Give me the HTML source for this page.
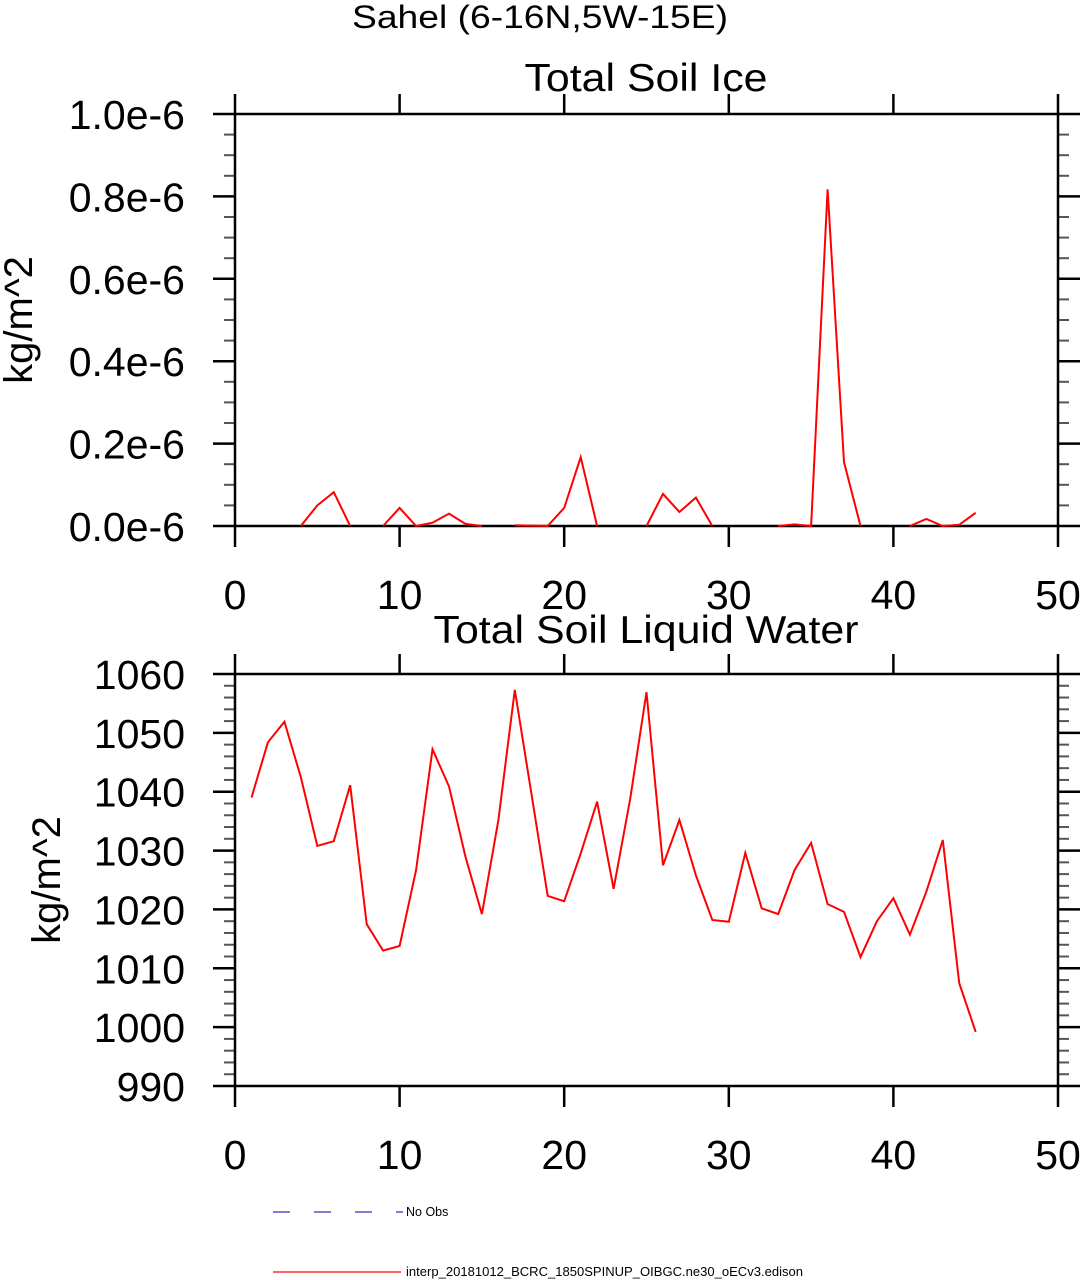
<!DOCTYPE html>
<html><head><meta charset="utf-8"><style>
body{margin:0;background:#fff}
svg{display:block}
text{font-family:"Liberation Sans",Arial,sans-serif;fill:#000}
</style></head><body>
<svg id="chart" width="1080" height="1280" viewBox="0 0 1080 1280" xmlns="http://www.w3.org/2000/svg">
<text x="540" y="28" font-size="32" text-anchor="middle" textLength="376" lengthAdjust="spacingAndGlyphs">Sahel (6-16N,5W-15E)</text>
<g id="p1"></g>
<g id="p2"></g>
<g>
<line x1="273" y1="1212" x2="403" y2="1212" stroke="#3030c0" stroke-width="1.2" stroke-dasharray="17,24"/>
<text x="406" y="1216" font-size="12.5">No Obs</text>
<line x1="273" y1="1272" x2="401" y2="1272" stroke="#ff0000" stroke-width="1.2"/>
<text x="406" y="1276" font-size="12.5" textLength="397" lengthAdjust="spacingAndGlyphs">interp_20181012_BCRC_1850SPINUP_OIBGC.ne30_oECv3.edison</text>
</g>
</svg>
<script>
const xTicks=[0,10,20,30,40,50];
const iceValues=[null,null,null,0,0.05,0.082,0,null,0,0.044,0,0.008,0.03,0.005,0,null,0.002,0.001,0,0.044,0.167,0,null,null,0,0.078,0.034,0.069,0,null,null,null,0,0.004,0,0.817,0.155,0,null,null,0,0.017,0,0.003,0.032];
const iceTicks=[0,0.2,0.4,0.6,0.8,1.0];
const iceTickLabels=["0.0e-6","0.2e-6","0.4e-6","0.6e-6","0.8e-6","1.0e-6"];
const liqValues=[1039.0,1048.4,1051.9,1042.5,1030.8,1031.6,1041.1,1017.5,1013.0,1013.8,1026.7,1047.2,1040.9,1029.0,1019.2,1035.2,1057.3,1039.8,1022.3,1021.4,1029.5,1038.3,1023.5,1038.6,1056.9,1027.5,1035.2,1025.8,1018.2,1017.9,1029.6,1020.2,1019.2,1026.7,1031.3,1020.9,1019.6,1011.9,1018.0,1021.9,1015.7,1023.0,1031.8,1007.5,999.2];
const liqTicks=[990,1000,1010,1020,1030,1040,1050,1060];
const NS="http://www.w3.org/2000/svg";
function mk(parent,tag,attrs){const e=document.createElementNS(NS,tag);for(const k in attrs)e.setAttribute(k,attrs[k]);parent.appendChild(e);return e;}
function panel(g,cfg){
  const L=235,R=1058,T=cfg.top,B=cfg.bottom;
  const xs=v=>L+(v-0)/(50-0)*(R-L);
  const ys=v=>B-(v-cfg.ymin)/(cfg.ymax-cfg.ymin)*(B-T);
  const t=mk(g,'text',{x:cfg.tx,y:cfg.ty,'font-size':39,'text-anchor':'middle',textLength:cfg.tl,lengthAdjust:'spacingAndGlyphs'});
  t.textContent=cfg.title;
  
  
  const yt=mk(g,'text',{transform:`translate(${cfg.yx},${(T+B)/2}) rotate(-90)`,'font-size':40,'text-anchor':'middle'});
  yt.textContent='kg/m^2';
  
  
  for(let v=cfg.ymin;v<=cfg.ymax+1e-9;v+=cfg.minor){
    const y=ys(v);
    const m1=mk(g,'line',{x1:L-11,x2:L,y1:y,y2:y,stroke:'#555','stroke-width':2});
    
    
    const m2=mk(g,'line',{x1:R,x2:R+11,y1:y,y2:y,stroke:'#555','stroke-width':2});
    
    
  }
  cfg.ticks.forEach((v,i)=>{
    const y=ys(v);
    const a=mk(g,'line',{x1:L-22,x2:L,y1:y,y2:y,stroke:'#000','stroke-width':2.5});
    
    
    const b=mk(g,'line',{x1:R,x2:R+22,y1:y,y2:y,stroke:'#000','stroke-width':2.5});
    
    
    const tx=mk(g,'text',{x:185,y:y+15,'font-size':41,'text-anchor':'end'});
    tx.textContent=cfg.labels[i];
    
    
  });
  xTicks.forEach(v=>{
    const x=xs(v);
    const a=mk(g,'line',{x1:x,x2:x,y1:B,y2:B+21,stroke:'#000','stroke-width':2.5});
    
    
    const b=mk(g,'line',{x1:x,x2:x,y1:T-20,y2:T,stroke:'#000','stroke-width':2.5});
    
    
    const tx=mk(g,'text',{x:x,y:B+83,'font-size':41,'text-anchor':'middle'});
    tx.textContent=String(v);
    
    
  });
  const fr=mk(g,'rect',{x:L,y:T,width:R-L,height:B-T,fill:'none',stroke:'#000','stroke-width':2.5});
  
  
  let segs=[],cur=[];
  cfg.values.forEach((v,i)=>{
    if(v===null){if(cur.length)segs.push(cur);cur=[];}
    else cur.push(xs(i+1).toFixed(1)+','+ys(v).toFixed(1));
  });
  if(cur.length)segs.push(cur);
  segs.forEach(s=>{
    const p=mk(g,'polyline',{points:s.join(' '),fill:'none',stroke:'#ff0000','stroke-width':2,'stroke-linejoin':'miter'});
    
    
  });
}
panel(document.getElementById('p1'),{top:114,bottom:526,ymin:0,ymax:1.0,minor:0.05,ticks:iceTicks,labels:iceTickLabels,values:iceValues,title:'Total Soil Ice',tx:646,ty:91,tl:243,yx:32});
panel(document.getElementById('p2'),{top:674,bottom:1086,ymin:990,ymax:1060,minor:2,ticks:liqTicks,labels:liqTicks.map(String),values:liqValues,title:'Total Soil Liquid Water',tx:646,ty:643,tl:425,yx:60});
</script>
</body></html>
